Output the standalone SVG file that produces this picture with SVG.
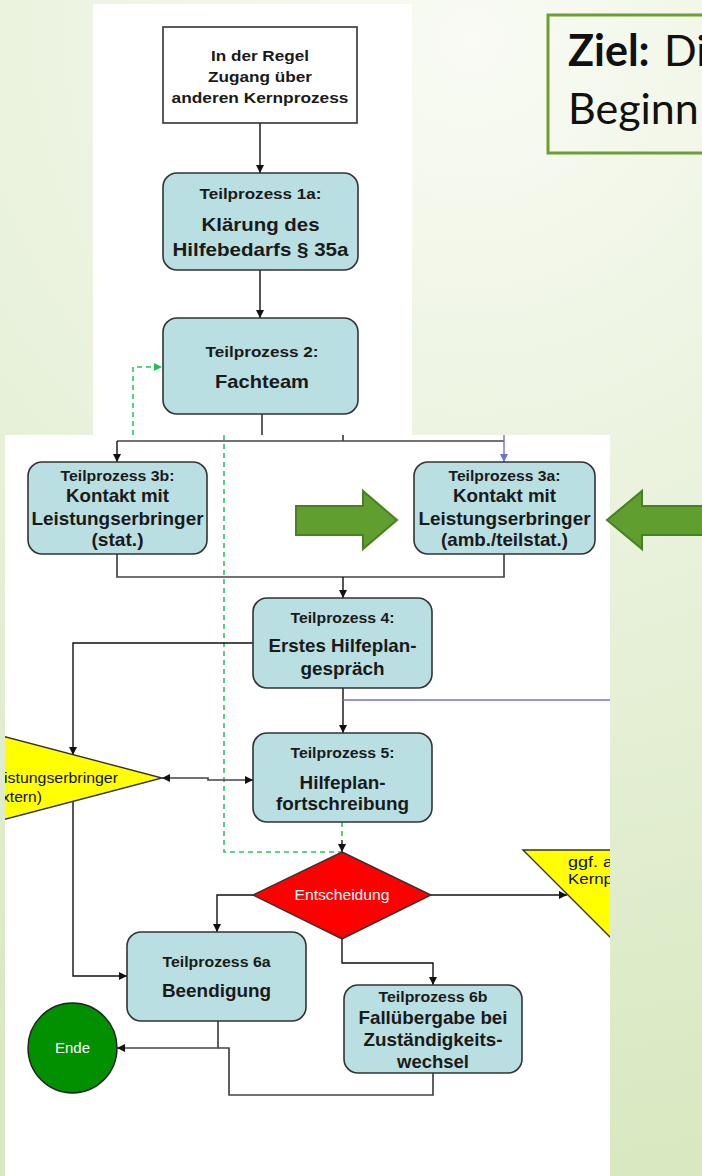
<svg xmlns="http://www.w3.org/2000/svg" width="702" height="1176" viewBox="0 0 702 1176">
  <defs>
    <radialGradient id="bg" cx="470" cy="40" r="1150" gradientUnits="userSpaceOnUse">
      <stop offset="0" stop-color="#f9fbf4"/>
      <stop offset="0.45" stop-color="#e9f2dc"/>
      <stop offset="1" stop-color="#d8e8c0"/>
    </radialGradient>
    <clipPath id="panel">
      <rect x="5" y="435" width="605" height="741"/>
    </clipPath>
    <marker id="ah" viewBox="0 0 10 10" refX="10" refY="5" markerWidth="9" markerHeight="8" markerUnits="userSpaceOnUse" orient="auto-start-reverse">
      <path d="M0,0 L10,5 L0,10 z" fill="#111"/>
    </marker>
    <marker id="ahBlue" viewBox="0 0 10 10" refX="10" refY="5" markerWidth="9" markerHeight="8" markerUnits="userSpaceOnUse" orient="auto">
      <path d="M0,0 L10,5 L0,10 z" fill="#6f6fe0"/>
    </marker>
    <marker id="ahGreen" viewBox="0 0 10 10" refX="10" refY="5" markerWidth="9" markerHeight="8" markerUnits="userSpaceOnUse" orient="auto">
      <path d="M0,0 L10,5 L0,10 z" fill="#1fbf55"/>
    </marker>
  </defs>
  <style>
    .box { fill: #b9dfe2; stroke: #333; stroke-width: 1.6; }
    .plain { fill: #fff; stroke: #333; stroke-width: 1.6; }
    .t { font-family: "Liberation Sans", Arial, sans-serif; font-weight: bold; fill: #1a1a1a; text-anchor: middle; }
    .sm { font-size: 14.5px; }
    .lg { font-size: 18.5px; }
    .n { font-family: "Liberation Sans", Arial, sans-serif; font-size: 14px; fill: #111; }
    .c { fill: none; stroke: #444; stroke-width: 1.7; }
    .cb { fill: none; stroke: #111; stroke-width: 1.4; }
    .blue { fill: none; stroke: #6f6fe0; stroke-width: 1.4; }
    .dash { fill: none; stroke: #2fc462; stroke-width: 1.6; stroke-dasharray: 5 4; }
    .big { fill: #5f9e2f; stroke: #4a7f22; stroke-width: 2; }
    .goal { font-family: Lato, "Open Sans", sans-serif; font-size: 43px; fill: #111; }
  </style>

  <!-- background and paper panels -->
  <rect x="0" y="0" width="702" height="1176" fill="url(#bg)"/>
  <rect x="93" y="4" width="319" height="431" fill="#fff"/>
  <rect x="5" y="435" width="605" height="741" fill="#fff"/>

  <!-- goal caption -->
  <g id="goal">
    <rect x="548" y="15" width="170" height="138" fill="none" stroke="#6f9e30" stroke-width="3"/>
    <text class="goal" x="568" y="66" font-weight="bold">Ziel:</text>
    <text class="goal" x="664" y="66">Di</text>
    <text class="goal" x="568" y="124">Beginn</text>
  </g>

  <!-- connectors -->
  <g id="connectors">
    <line class="cb" x1="260" y1="123" x2="260" y2="173" marker-end="url(#ah)"/>
    <line class="cb" x1="260" y1="270" x2="260" y2="318" marker-end="url(#ah)"/>
    <line class="c" x1="262" y1="414" x2="262" y2="435"/>
    <path class="dash" d="M133,435 V367 H162" marker-end="url(#ahGreen)"/>

    <line class="c" x1="343" y1="435" x2="343" y2="441"/>
    <path class="c" d="M117,441 H504"/>
    <line class="cb" x1="117" y1="441" x2="117" y2="462" marker-end="url(#ah)"/>
    <line class="blue" x1="504" y1="435" x2="504" y2="462" marker-end="url(#ahBlue)"/>

    <path class="c" d="M117,554 V577 H504 V554"/>
    <line class="cb" x1="343" y1="577" x2="343" y2="598" marker-end="url(#ah)"/>

    <path class="dash" d="M224,435 V852 H342"/>

    <path class="cb" d="M253,643 H73 V755" marker-end="url(#ah)"/>
    <line class="cb" x1="343" y1="688" x2="343" y2="733" marker-end="url(#ah)"/>
    <path class="blue" d="M343,700 H610"/>

    <path class="c" d="M162,778 H208 V780 H253" marker-start="url(#ah)" marker-end="url(#ah)"/>
    <path class="cb" d="M73,800 V976 H127" marker-end="url(#ah)"/>

    <line class="dash" x1="342" y1="822" x2="342" y2="840"/>
    <line class="cb" x1="342" y1="840" x2="342" y2="852" marker-end="url(#ah)"/>

    <path class="cb" d="M253,895 H217 V932" marker-end="url(#ah)"/>
    <path class="cb" d="M431,895 H567" marker-end="url(#ah)"/>
    <path class="cb" d="M342,939 V963 H433 V985" marker-end="url(#ah)"/>

    <path class="c" d="M218,1021 V1048 H117" marker-end="url(#ah)"/>
    <path class="c" d="M433,1073 V1095 H229 V1048 H218"/>
  </g>

  <!-- nodes -->
  <g id="entry">
    <rect class="plain" x="163" y="27" width="194" height="96"/>
    <text class="t" font-size="15.5" x="260" y="61" textLength="98" lengthAdjust="spacingAndGlyphs">In der Regel</text>
    <text class="t" font-size="15.5" x="260" y="82" textLength="104" lengthAdjust="spacingAndGlyphs">Zugang über</text>
    <text class="t" font-size="15.5" x="260" y="103" textLength="177" lengthAdjust="spacingAndGlyphs">anderen Kernprozess</text>
  </g>

  <g id="tp1a">
    <rect class="box" x="163" y="173" width="195" height="97" rx="14"/>
    <text class="t sm" x="260.5" y="199" textLength="122" lengthAdjust="spacingAndGlyphs">Teilprozess 1a:</text>
    <text class="t" font-size="19" x="260.5" y="231" textLength="118" lengthAdjust="spacingAndGlyphs">Klärung des</text>
    <text class="t" font-size="19" x="260.5" y="256" textLength="176" lengthAdjust="spacingAndGlyphs">Hilfebedarfs § 35a</text>
  </g>

  <g id="tp2">
    <rect class="box" x="163" y="318" width="195" height="96" rx="14"/>
    <text class="t sm" x="262" y="357" textLength="113" lengthAdjust="spacingAndGlyphs">Teilprozess 2:</text>
    <text class="t" font-size="19" x="262" y="388" textLength="94" lengthAdjust="spacingAndGlyphs">Fachteam</text>
  </g>

  <g id="tp3b">
    <rect class="box" x="28" y="462" width="179" height="92" rx="14"/>
    <text class="t sm" x="117.5" y="481" textLength="114" lengthAdjust="spacingAndGlyphs">Teilprozess 3b:</text>
    <text class="t lg" x="117.5" y="502" textLength="103" lengthAdjust="spacingAndGlyphs">Kontakt mit</text>
    <text class="t lg" x="117.5" y="525" textLength="172" lengthAdjust="spacingAndGlyphs">Leistungserbringer</text>
    <text class="t lg" x="117.5" y="546" textLength="52" lengthAdjust="spacingAndGlyphs">(stat.)</text>
  </g>

  <g id="tp3a">
    <rect class="box" x="414" y="462" width="181" height="92" rx="14"/>
    <text class="t sm" x="504.5" y="481" textLength="112" lengthAdjust="spacingAndGlyphs">Teilprozess 3a:</text>
    <text class="t lg" x="504.5" y="502" textLength="103" lengthAdjust="spacingAndGlyphs">Kontakt mit</text>
    <text class="t lg" x="504.5" y="525" textLength="172" lengthAdjust="spacingAndGlyphs">Leistungserbringer</text>
    <text class="t lg" x="504.5" y="546" textLength="127" lengthAdjust="spacingAndGlyphs">(amb./teilstat.)</text>
  </g>

  <g id="pointer-right">
    <polygon class="big" points="296,506 363,506 363,491 397,520 363,549 363,535 296,535"/>
  </g>
  <g id="pointer-left">
    <polygon class="big" points="712,506 642,506 642,491 607,520 642,549 642,535 712,535"/>
  </g>

  <g id="tp4">
    <rect class="box" x="253" y="598" width="179" height="90" rx="14"/>
    <text class="t sm" x="342.5" y="623" textLength="104" lengthAdjust="spacingAndGlyphs">Teilprozess 4:</text>
    <text class="t lg" x="342.5" y="652" textLength="148" lengthAdjust="spacingAndGlyphs">Erstes Hilfeplan-</text>
    <text class="t lg" x="342.5" y="675" textLength="84" lengthAdjust="spacingAndGlyphs">gespräch</text>
  </g>

  <g id="tp5">
    <rect class="box" x="253" y="733" width="179" height="89" rx="14"/>
    <text class="t sm" x="342.5" y="758" textLength="104" lengthAdjust="spacingAndGlyphs">Teilprozess 5:</text>
    <text class="t lg" x="342.5" y="789" textLength="86" lengthAdjust="spacingAndGlyphs">Hilfeplan-</text>
    <text class="t lg" x="342.5" y="810" textLength="133" lengthAdjust="spacingAndGlyphs">fortschreibung</text>
  </g>

  <g id="provider-external" clip-path="url(#panel)">
    <polygon points="-40,725 162,778 -40,831" fill="#ffff00" stroke="#333" stroke-width="1.4"/>
    <text class="n" x="118" y="783" text-anchor="end" textLength="114" lengthAdjust="spacingAndGlyphs">istungserbringer</text>
    <text class="n" x="42" y="802" text-anchor="end" textLength="40" lengthAdjust="spacingAndGlyphs">xtern)</text>
  </g>

  <g id="decision">
    <polygon points="342,852 431,895 342,939 253,895" fill="#ff0000" stroke="#333" stroke-width="1.4"/>
    <text class="n" x="342" y="900" text-anchor="middle" style="fill:#fff" textLength="95" lengthAdjust="spacingAndGlyphs">Entscheidung</text>
  </g>

  <g id="other-process" clip-path="url(#panel)">
    <polygon points="523,850 700,850 612,939" fill="#ffff00" stroke="#333" stroke-width="1.4"/>
    <text class="n" x="568" y="867" textLength="45" lengthAdjust="spacingAndGlyphs">ggf. a</text>
    <text class="n" x="568" y="884" textLength="45" lengthAdjust="spacingAndGlyphs">Kernp</text>
  </g>

  <g id="tp6a">
    <rect class="box" x="127" y="932" width="179" height="89" rx="14"/>
    <text class="t sm" x="216.5" y="967" textLength="108" lengthAdjust="spacingAndGlyphs">Teilprozess 6a</text>
    <text class="t" font-size="19" x="216.5" y="997" textLength="109" lengthAdjust="spacingAndGlyphs">Beendigung</text>
  </g>

  <g id="tp6b">
    <rect class="box" x="344" y="985" width="178" height="88" rx="14"/>
    <text class="t sm" x="433" y="1002" textLength="109" lengthAdjust="spacingAndGlyphs">Teilprozess 6b</text>
    <text class="t lg" x="433" y="1024" textLength="149" lengthAdjust="spacingAndGlyphs">Fallübergabe bei</text>
    <text class="t lg" x="433" y="1046" textLength="139" lengthAdjust="spacingAndGlyphs">Zuständigkeits-</text>
    <text class="t lg" x="433" y="1068" textLength="72" lengthAdjust="spacingAndGlyphs">wechsel</text>
  </g>

  <g id="end">
    <ellipse cx="72.5" cy="1048" rx="44.5" ry="45" fill="#009000" stroke="#222" stroke-width="1.4"/>
    <text class="n" x="72.5" y="1053" text-anchor="middle" style="fill:#fff" textLength="35" lengthAdjust="spacingAndGlyphs">Ende</text>
  </g>
</svg>
